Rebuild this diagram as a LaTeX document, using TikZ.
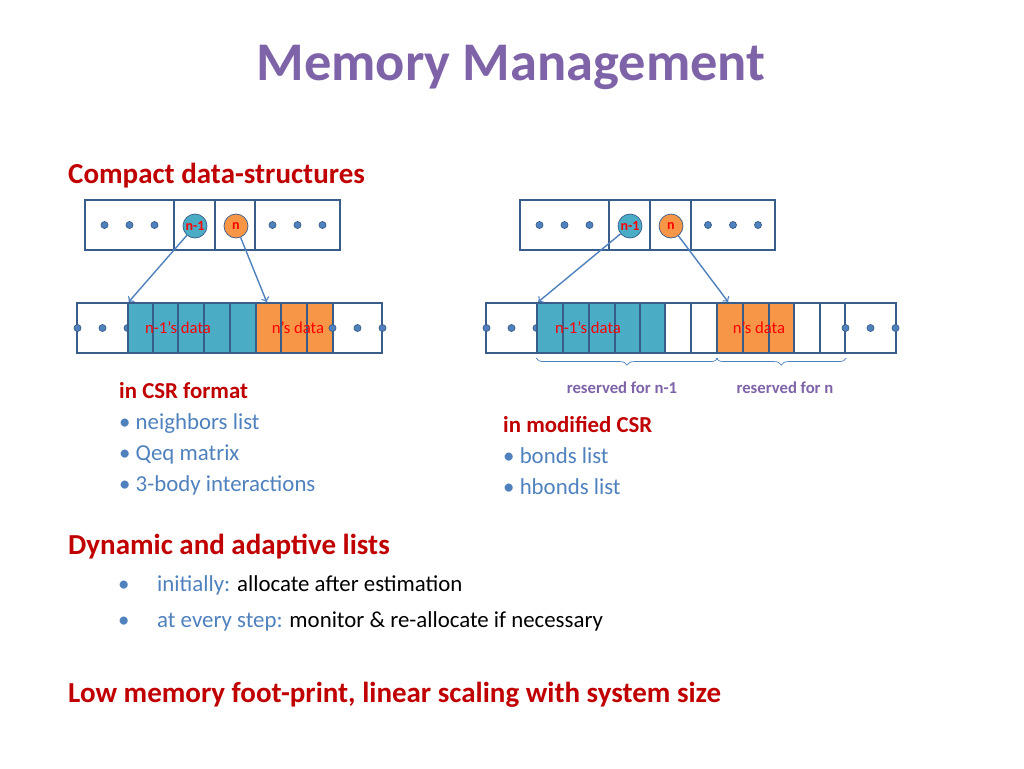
\documentclass[tikz,border=0pt]{standalone}
\usepackage{fontspec}
\setmainfont{Carlito}
\usetikzlibrary{positioning, decorations.pathreplacing}
\definecolor{ttl}{HTML}{7F63A8}
\definecolor{hred}{HTML}{C00000}
\definecolor{bblue}{HTML}{4F81BD}
\definecolor{cblue}{HTML}{4BACC6}
\definecolor{corange}{HTML}{F79646}
\definecolor{edge}{HTML}{385D8A}
\tikzset{
  cell/.style={draw=edge, semithick, minimum height=50*0.02cm, inner sep=0pt},
  dcell/.style={cell, line width=1.2pt},
  ptr/.style={->, draw=bblue, thick},
  dot/.style={circle, fill=bblue, draw=edge, inner sep=0pt, minimum size=4pt},
  idx/.style={circle, draw=edge, inner sep=0pt, minimum size=24*0.02cm, font=\bfseries\fontsize{8}{8}\selectfont, text=red},
  dlbl/.style={font=\fontsize{9.5}{10}\selectfont, text=red},
  rlbl/.style={font=\bfseries\fontsize{9.5}{10}\selectfont, text=ttl},
  head/.style={anchor=base west, font=\bfseries\fontsize{16.5}{18}\selectfont, text=hred},
  sub/.style={anchor=base west, font=\bfseries\fontsize{13}{14}\selectfont, text=hred},
  item/.style={anchor=base west, font=\fontsize{13}{14}\selectfont, text=bblue},
}
\newcommand{\celldots}[1]{\foreach \dx in {-25,0,25} \node[dot] at ([xshift=\dx*0.02cm]#1) {};}
\begin{document}
\begin{tikzpicture}[x=0.02cm, y=-0.02cm]
\useasboundingbox (0,0) rectangle (1024,768);
\node[font=\bfseries\fontsize{31}{34}\selectfont, text=ttl] (title) at (511,67) {Memory Management};
\node[head] (compact) at (62,183) {Compact data-structures};

% left top array
\node[cell, minimum width=89*0.02cm] (lt1) at (129.5,225) {};
\node[cell, minimum width=41*0.02cm] (lt2) at (194.5,225) {};
\node[cell, minimum width=40*0.02cm] (lt3) at (235,225) {};
\node[cell, minimum width=85*0.02cm] (lt4) at (297.5,225) {};
\celldots{lt1} \celldots{lt4}
\node[idx, fill=cblue] (lnm) at (195,226) {n-1};
\node[idx, fill=corange] (ln) at (236,226) {n};

% left bottom array
\node[cell, minimum width=51*0.02cm] (lb0) at (102.5,328) {};
\celldots{lb0}
\foreach \i/\xc in {1/140.5,2/165.5,3/191,4/217,5/243}
  \node[dcell, fill=cblue, minimum width=25.5*0.02cm] (lb\i) at (\xc,328) {};
\foreach \i/\xc in {6/268.5,7/294,8/320}
  \node[dcell, fill=corange, minimum width=25.5*0.02cm] (lb\i) at (\xc,328) {};
\node[cell, minimum width=49*0.02cm] (lb9) at (357.5,328) {};
\celldots{lb9}
\node[dlbl] (lnmd) at (178,328) {n-1’s data};
\node[dlbl] (lnd) at (298,328) {n’s data};
\draw[ptr] (lnm) -- ([xshift=2*0.02cm]lb1.north west);
\draw[ptr] (ln) -- ([xshift=12*0.02cm]lb6.north west);

% right top array
\node[cell, minimum width=89*0.02cm] (rt1) at (564.5,225) {};
\node[cell, minimum width=41*0.02cm] (rt2) at (629.5,225) {};
\node[cell, minimum width=41*0.02cm] (rt3) at (670.5,225) {};
\node[cell, minimum width=84*0.02cm] (rt4) at (733,225) {};
\celldots{rt1} \celldots{rt4}
\node[idx, fill=cblue] (rnm) at (630,226) {n-1};
\node[idx, fill=corange] (rn) at (671,226) {n};

% right bottom array
\node[cell, minimum width=51*0.02cm] (rb0) at (511.5,328) {};
\celldots{rb0}
\foreach \i/\xc in {1/550,2/576,3/602,4/628,5/653}
  \node[dcell, fill=cblue, minimum width=25.5*0.02cm] (rb\i) at (\xc,328) {};
\foreach \i/\xc in {6/678,7/704,10/807,11/832.5}
  \node[dcell, fill=white, minimum width=25.5*0.02cm] (rb\i) at (\xc,328) {};
\foreach \i/\xc in {8/730,9/756,12/781.5}
  \node[dcell, fill=corange, minimum width=25.5*0.02cm] (rb\i) at (\xc,328) {};
\node[cell, minimum width=51*0.02cm] (rb13) at (870.5,328) {};
\celldots{rb13}
\node[dlbl] (rnmd) at (588,328) {n-1’s data};
\node[dlbl] (rnd) at (759,328) {n’s data};
\draw[ptr] (rnm) -- ([xshift=2*0.02cm]rb1.north west);
\draw[ptr] (rn) -- ([xshift=12*0.02cm]rb8.north west);
\draw[decorate, decoration={brace, mirror, amplitude=4pt}, draw=bblue]
  ([yshift=-4*0.02cm]rb1.south west) -- ([yshift=-4*0.02cm]rb7.south east);
\draw[decorate, decoration={brace, mirror, amplitude=4pt}, draw=bblue]
  ([yshift=-4*0.02cm]rb8.south west) -- ([yshift=-4*0.02cm]rb11.south east);
\node[rlbl] (res1) at (622,388) {reserved for n-1};
\node[rlbl] (res2) at (785,388) {reserved for n};

% lists
\node[sub] (csr) at (113,398) {in CSR format};
\node[item] (l1) at (113,429) {• neighbors list};
\node[item] (l2) at (113,460) {• Qeq matrix};
\node[item] (l3) at (113,491) {• 3-body interactions};
\node[sub] (mcsr) at (497,432) {in modified CSR};
\node[item] (m1) at (497,463) {• bonds list};
\node[item] (m2) at (497,494) {• hbonds list};

\node[head] (dyn) at (62,554) {Dynamic and adaptive lists};
\node[item] (b1) at (112,591) {•};
\node[item] (d1) at (151,591) {initially: \textcolor{black}{allocate after estimation}};
\node[item] (b2) at (112,627) {•};
\node[item] (d2) at (151,627) {at every step: \textcolor{black}{monitor \& re-allocate if necessary}};
\node[head] (low) at (62,702) {Low memory foot-print, linear scaling with system size};
\end{tikzpicture}
\end{document}
